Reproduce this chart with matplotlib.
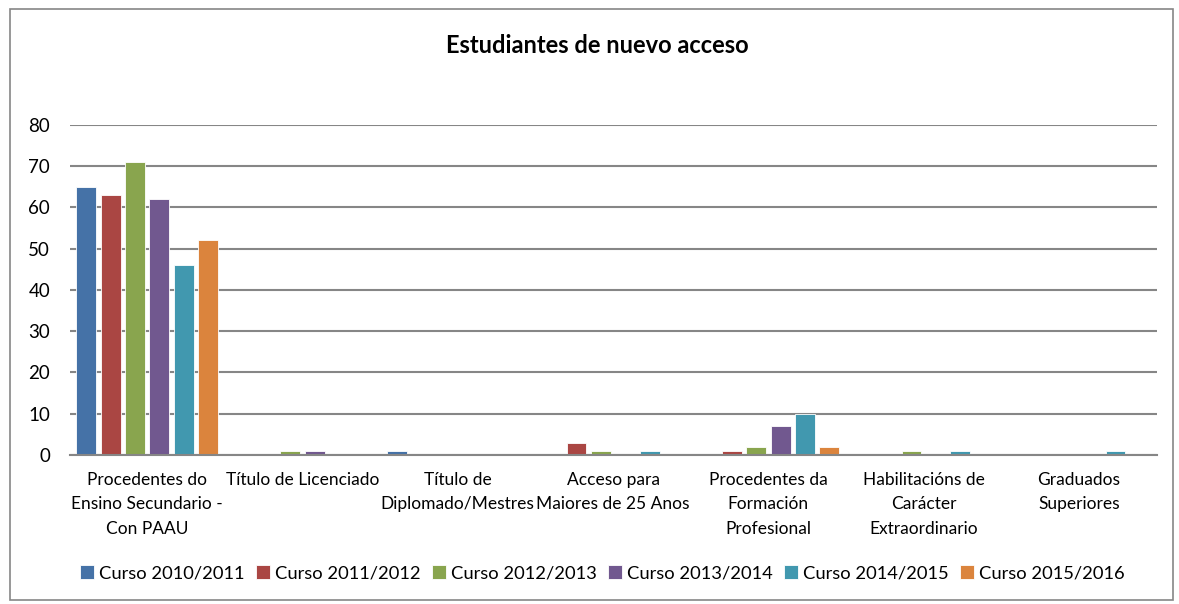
import numpy as np
import matplotlib.pyplot as plt
from matplotlib.patches import Rectangle

plt.rcParams['font.family'] = ['Lato', 'DejaVu Sans']

categories = ["Procedentes do\nEnsino Secundario -\nCon PAAU", "Título de Licenciado",
              "Título de\nDiplomado/Mestres", "Acceso para\nMaiores de 25 Anos",
              "Procedentes da\nFormación\nProfesional", "Habilitacións de\nCarácter\nExtraordinario",
              "Graduados\nSuperiores"]
series = ["Curso 2010/2011", "Curso 2011/2012", "Curso 2012/2013",
          "Curso 2013/2014", "Curso 2014/2015", "Curso 2015/2016"]
c2010 = [65, 0, 1, 0, 0, 0, 0]
c2011 = [63, 0, 0, 3, 1, 0, 0]
c2012 = [71, 1, 0, 1, 2, 1, 0]
c2013 = [62, 1, 0, 0, 7, 0, 0]
c2014 = [46, 0, 0, 1, 10, 1, 1]
c2015 = [52, 0, 0, 0, 2, 0, 0]
values = [c2010, c2011, c2012, c2013, c2014, c2015]
colors = ['#4572A7', '#AA4643', '#89A54E', '#71588F', '#4198AF', '#DB843D']

fig = plt.figure(figsize=(11.79, 6.04), dpi=100)
ax = fig.add_axes([0.059, 0.2467, 0.922, 0.5464])

x = np.arange(len(categories))
slot = 0.157
for i, (name, vals) in enumerate(zip(series, values)):
    ax.bar(x + (i - 2.5) * slot, vals, width=0.128, color=colors[i], label=name,
           edgecolor='white', linewidth=0.6, zorder=3)

ax.set_xlim(-0.5, len(categories) - 0.5)
ax.set_ylim(0, 80)
ax.set_yticks(range(0, 81, 10))
ax.yaxis.grid(True, color='#868686', linewidth=1.5)
ax.set_axisbelow(True)
for s in ['left', 'right', 'top']:
    ax.spines[s].set_visible(False)
ax.spines['bottom'].set_color('#868686')
ax.spines['bottom'].set_linewidth(1.5)
ax.spines['bottom'].set_zorder(4)
ax.set_xticks(x)
ax.set_xticklabels(categories, fontsize=12.5, linespacing=1.65, va='top')
ax.tick_params(axis='both', length=0)
ax.tick_params(axis='x', pad=12)
ax.tick_params(axis='y', pad=14, labelsize=13.5)

fig.text(0.507, 0.925, "Estudiantes de nuevo acceso", ha='center', va='center',
         fontsize=17, fontweight='bold')

fig.legend(loc='center', bbox_to_anchor=(0.511, 0.051), ncol=6, frameon=False,
           fontsize=13.2, handlelength=0.75, handleheight=0.75, handletextpad=0.3,
           columnspacing=0.6)

fig.patches.append(Rectangle((0.0085, 0.007), 0.986, 0.978, transform=fig.transFigure,
                             fill=False, edgecolor='#868686', linewidth=1.2))

fig.savefig('out.png', dpi=100)
